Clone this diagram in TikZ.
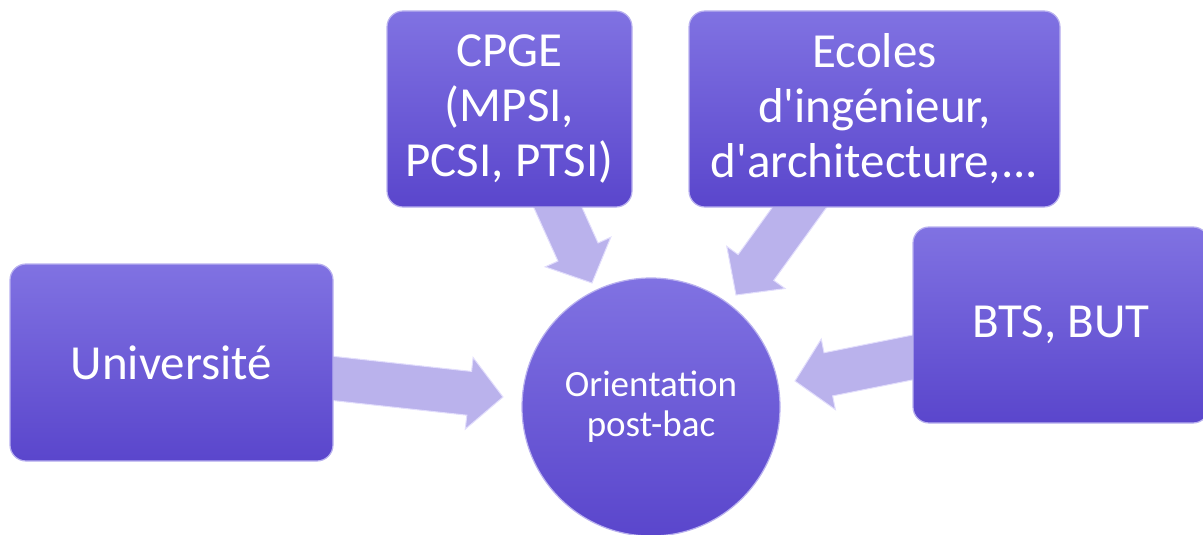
\documentclass[tikz,border=0pt]{standalone}
\usepackage{fontspec}
\setmainfont{Carlito}
\usetikzlibrary{calc}
\definecolor{boxtop}{RGB}{128,114,226}
\definecolor{boxbot}{RGB}{90,70,204}
\definecolor{arrowfill}{RGB}{186,178,236}
\definecolor{arrowedge}{RGB}{226,222,252}
\pgfdeclarelayer{bg}
\pgfsetlayers{bg,main}
\newcommand\fatarrow[2]{%
  \coordinate (hb) at ($(#2)!34pt!(#1)$);
  \draw[fat] ($(#1)!22pt!90:(#2)$) -- ($(hb)!22pt!-90:(#1)$) -- ($(hb)!36pt!-90:(#1)$)
    -- (#2) -- ($(hb)!36pt!90:(#1)$) -- ($(hb)!22pt!90:(#1)$) -- ($(#1)!22pt!-90:(#2)$) -- cycle;}
\begin{document}
\begin{tikzpicture}[x=1pt,y=-1pt,
  box/.style={rounded corners=16pt, top color=boxtop, bottom color=boxbot,
    draw=boxtop!55!white, line width=1.2pt, text=white,
    font=\fontsize{49}{55}\selectfont, align=center, inner sep=0pt},
  hub/.style={circle, top color=boxtop, bottom color=boxbot,
    draw=boxtop!55!white, line width=1.2pt, text=white,
    font=\fontsize{37}{40}\selectfont, align=center, minimum size=258pt, inner sep=0pt},
  fat/.style={fill=arrowfill, draw=arrowedge, line width=1pt, line join=miter}]
\useasboundingbox (0,0) rectangle (1203,535);

\node[box, minimum width=323pt, minimum height=197pt] (univ) at (171.5,362.5) {Université};
\node[box, minimum width=245pt, minimum height=196pt] (cpge) at (509.5,109) {CPGE\\(MPSI,\\PCSI, PTSI)};
\node[box, minimum width=371pt, minimum height=196pt] (ecoles) at (874.5,109) {Ecoles\\d\textquotesingle ingénieur,\\d\textquotesingle architecture,...};
\node[box, minimum width=296pt, minimum height=196pt] (bts) at (1061,325) {BTS, BUT};
\node[hub] (hub) at (651,407) {Orientation\\post-bac};

\coordinate (univOut) at (320,377);
\coordinate (univIn) at (503,397);
\coordinate (cpgeOut) at (550,190);
\coordinate (cpgeIn) at (592,283);
\coordinate (ecolesOut) at (812,190);
\coordinate (ecolesIn) at (736,295);
\coordinate (btsOut) at (925,355);
\coordinate (btsIn) at (795,381);

\begin{pgfonlayer}{bg}
  \fatarrow{univOut}{univIn}
  \fatarrow{cpgeOut}{cpgeIn}
  \fatarrow{ecolesOut}{ecolesIn}
  \fatarrow{btsOut}{btsIn}
\end{pgfonlayer}
\end{tikzpicture}
\end{document}
